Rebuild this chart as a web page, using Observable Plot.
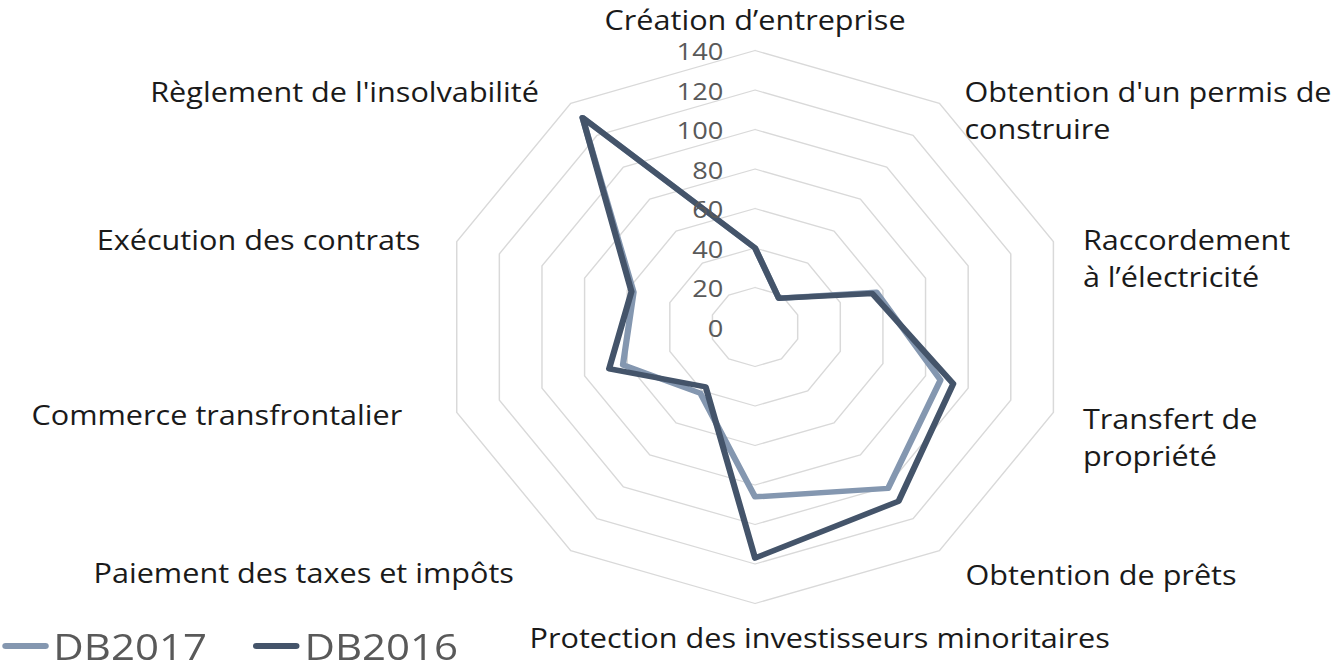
<!DOCTYPE html>
<html>
<head>
<meta charset="utf-8">
<script src="https://cdn.jsdelivr.net/npm/d3@7"></script>
<script src="https://cdn.jsdelivr.net/npm/@observablehq/plot@0.6"></script>
<style>
  html, body { margin: 0; padding: 0; background: #fff; overflow: hidden; }
  #wrap { position: relative; width: 1175px; height: 669px; transform-origin: 0 0; }
  #legend { position: absolute; left: 0; top: 626px; display: flex; align-items: center;
            font-family: "Open Sans", "Noto Sans", sans-serif; font-size: 37px; line-height: 40px; color: #595959; }
  .item { display: flex; align-items: center; margin-right: 39px; }
  .sw { width: 41px; height: 6px; border-radius: 3px; margin-left: 2px; margin-right: 4px; }
</style>
</head>
<body>
<div id="wrap">
  <div id="chart"></div>
  <div id="legend"></div>
</div>
<script>
// ---- data ----
const categories = [
  "Création d’entreprise",
  "Obtention d'un permis de\nconstruire",
  "Raccordement\nà l’électricité",
  "Transfert de\npropriété",
  "Obtention de prêts",
  "Protection des investisseurs minoritaires",
  "Paiement des taxes et impôts",
  "Commerce transfrontalier",
  "Exécution des contrats",
  "Règlement de l'insolvabilité"
];
const db2017 = [40, 18, 57, 87, 101, 86, 41.5, 62, 57, 131];
const db2016 = [40, 18, 55, 93, 109, 117, 37.5, 68.5, 58, 131];
const seriesNames = ["DB2017", "DB2016"];
const tickValues = [0, 20, 40, 60, 80, 100, 120, 140];

// ---- layout ----
const W = 1175, H = 669, STRETCH = 1333 / 1175;
const CX = 754.5 / STRETCH, CY = 326.5, PX_PER_UNIT = 1.975;
const colors = {DB2017: "#8497b0", DB2016: "#44546a"};
const labelLayout = [
  {anchor: "middle", dx: 0,   dy: -32},
  {anchor: "start",  dx: 22,  dy: 5},
  {anchor: "start",  dx: 26,  dy: 15},
  {anchor: "start",  dx: 26,  dy: 23},
  {anchor: "start",  dx: 23,  dy: 22},
  {anchor: "middle", dx: 57,  dy: 33},
  {anchor: "end",    dx: -50, dy: 20},
  {anchor: "end",    dx: -48, dy: 1},
  {anchor: "end",    dx: -32, dy: -3},
  {anchor: "end",    dx: -28, dy: -13}
];
document.getElementById("wrap").style.transform = `scaleX(${STRETCH})`;

const n = categories.length;
const angle = i => (i * 2 * Math.PI) / n;
const px = (r, i) => r * Math.sin(angle(i));
const py = (r, i) => r * Math.cos(angle(i));
const maxR = d3.max(tickValues);

// grid rings (closed polygons)
const rings = tickValues.filter(v => v > 0).flatMap(v =>
  d3.range(n + 1).map(k => ({v, x: px(v, k % n), y: py(v, k % n)})));

// series polygons
const seriesData = [[seriesNames[0], db2017], [seriesNames[1], db2016]];
const pts = seriesData.flatMap(([name, vals]) =>
  d3.range(n + 1).map(k => ({series: name, x: px(vals[k % n], k % n), y: py(vals[k % n], k % n)})));

const xDomain = [-CX / PX_PER_UNIT, (W - CX) / PX_PER_UNIT];
const yDomain = [-(H - CY) / PX_PER_UNIT, CY / PX_PER_UNIT];

const FONT = "'Open Sans', 'Noto Sans', sans-serif";

const labelMarks = categories.map((c, i) =>
  Plot.text([c], {
    x: () => px(maxR, i), y: () => py(maxR, i), text: d => d,
    textAnchor: labelLayout[i].anchor, lineAnchor: "middle",
    dx: labelLayout[i].dx, dy: labelLayout[i].dy,
    fontSize: 27, fill: "#1a1a1a", lineHeight: 1.37
  }));

const chart = Plot.plot({
  width: W, height: H,
  marginTop: 0, marginRight: 0, marginBottom: 0, marginLeft: 0,
  style: {fontFamily: FONT, background: "#fff"},
  x: {domain: xDomain, axis: null},
  y: {domain: yDomain, axis: null},
  color: {domain: seriesNames, range: seriesNames.map(s => colors[s])},
  marks: [
    Plot.line(rings, {x: "x", y: "y", z: "v", stroke: "#d9d9d9", strokeWidth: 1.3}),
    Plot.line(pts, {x: "x", y: "y", z: "series", stroke: "series", strokeWidth: 5.5,
                    strokeLinejoin: "round", strokeLinecap: "round"}),
    Plot.text(tickValues, {x: 0, y: d => d, text: d => String(d), textAnchor: "end",
                           dx: -28, dy: 2, fontSize: 24, fill: "#595959"}),
    ...labelMarks
  ]
});
document.getElementById("chart").appendChild(chart);

// legend
const leg = document.getElementById("legend");
seriesNames.forEach(s => {
  const it = document.createElement("div");
  it.className = "item";
  const sw = document.createElement("div");
  sw.className = "sw";
  sw.style.background = colors[s];
  const t = document.createElement("span");
  t.textContent = s;
  it.appendChild(sw); it.appendChild(t);
  leg.appendChild(it);
});
</script>
</body>
</html>
